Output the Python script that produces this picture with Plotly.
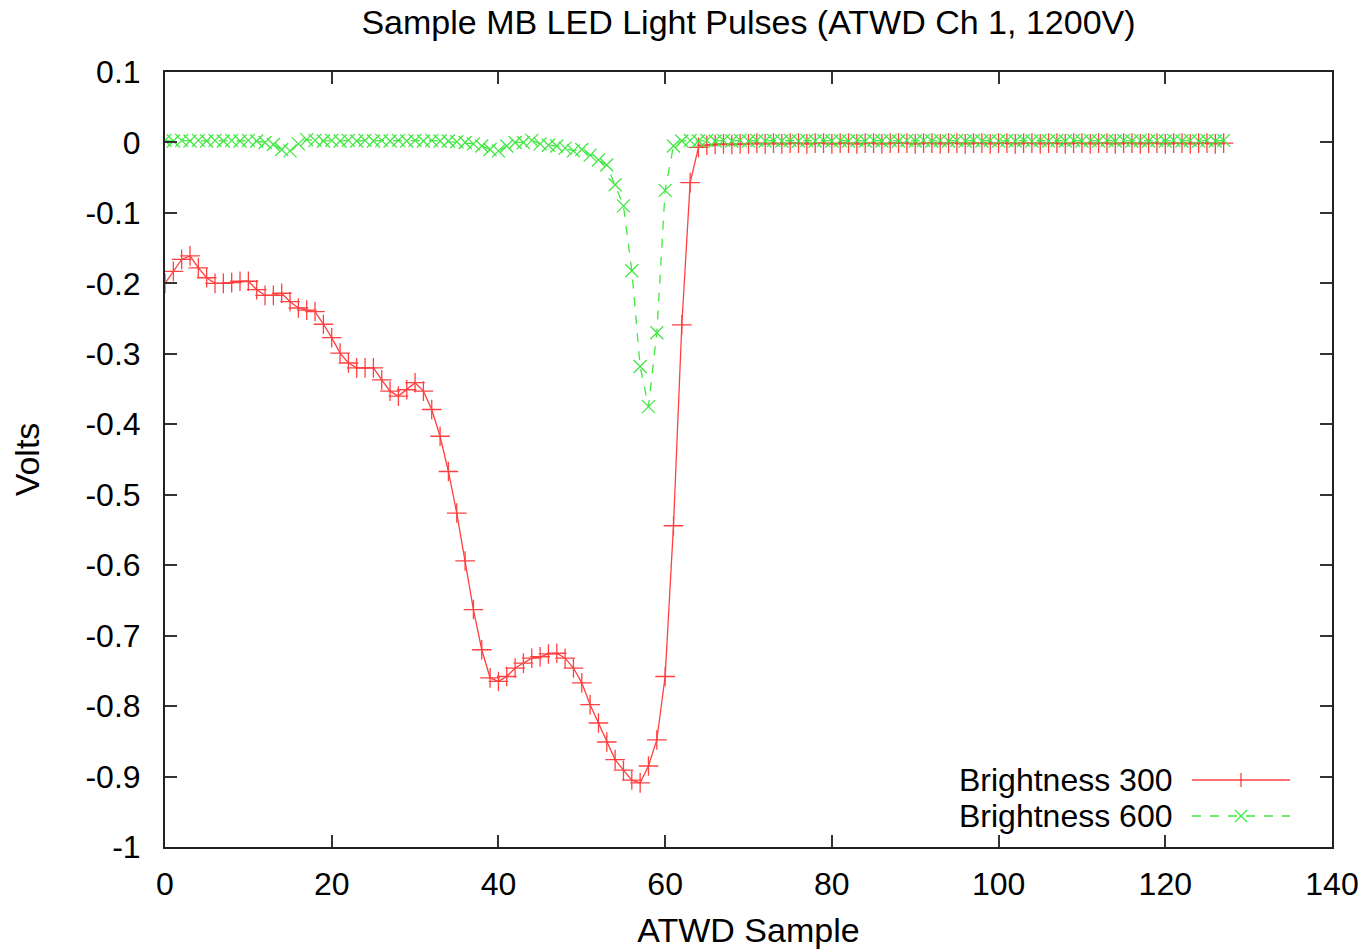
import plotly.graph_objects as go

samples = list(range(128))

brightness_300 = [
    -0.200, -0.183, -0.166, -0.161, -0.178, -0.192, -0.200, -0.200, -0.199, -0.197,
    -0.197, -0.209, -0.217, -0.217, -0.214, -0.226, -0.235, -0.238, -0.240, -0.258,
    -0.277, -0.299, -0.313, -0.320, -0.320, -0.320, -0.337, -0.353, -0.360, -0.351,
    -0.341, -0.353, -0.379, -0.417, -0.467, -0.526, -0.594, -0.663, -0.720, -0.760,
    -0.765, -0.758, -0.746, -0.739, -0.732, -0.730, -0.726, -0.725, -0.732, -0.746,
    -0.767, -0.798, -0.824, -0.851, -0.876, -0.891, -0.905, -0.909, -0.885, -0.848,
    -0.758, -0.544, -0.259, -0.057, -0.007, -0.004, -0.003, -0.002, -0.003, -0.002,
    -0.002, -0.001, -0.002, -0.001, -0.002, -0.001, -0.001, -0.002, -0.001, -0.001,
    -0.002, -0.001, -0.001, -0.002, -0.001, -0.001, -0.002, -0.001, -0.001, -0.001,
    -0.002, -0.001, -0.001, -0.002, -0.001, -0.001, -0.002, -0.001, -0.001, -0.002,
    -0.001, -0.001, -0.002, -0.001, -0.001, -0.002, -0.001, -0.001, -0.002, -0.001,
    -0.001, -0.002, -0.001, -0.001, -0.002, -0.001, -0.001, -0.002, -0.001, -0.001,
    -0.002, -0.001, -0.001, -0.002, -0.001, -0.001, -0.002, -0.001,
]

brightness_600 = [
    0.003, 0.002, 0.003, 0.002, 0.003, 0.002, 0.003, 0.002, 0.003, 0.002,
    0.003, 0.002, 0.000, -0.003, -0.010, -0.012, -0.002, 0.004, 0.003, 0.002,
    0.003, 0.002, 0.003, 0.002, 0.003, 0.002, 0.003, 0.002, 0.003, 0.002,
    0.003, 0.002, 0.003, 0.002, 0.002, 0.001, 0.000, -0.002, -0.005, -0.010,
    -0.012, -0.005, 0.000, 0.000, 0.003, -0.002, -0.004, -0.005, -0.008, -0.012,
    -0.010, -0.018, -0.025, -0.032, -0.060, -0.090, -0.182, -0.318, -0.375, -0.270,
    -0.068, -0.005, 0.002, 0.003, 0.002, 0.003, 0.002, 0.003, 0.002, 0.003,
    0.002, 0.003, 0.002, 0.003, 0.002, 0.003, 0.002, 0.003, 0.002, 0.003,
    0.002, 0.003, 0.002, 0.003, 0.002, 0.003, 0.002, 0.003, 0.002, 0.003,
    0.002, 0.003, 0.002, 0.003, 0.002, 0.003, 0.002, 0.003, 0.002, 0.003,
    0.002, 0.003, 0.002, 0.003, 0.002, 0.003, 0.002, 0.003, 0.002, 0.003,
    0.002, 0.003, 0.002, 0.003, 0.002, 0.003, 0.002, 0.003, 0.002, 0.003,
    0.002, 0.003, 0.002, 0.003, 0.002, 0.003, 0.002, 0.003,
]

series_names = ["Brightness 300", "Brightness 600"]
x_ticks = [0, 20, 40, 60, 80, 100, 120, 140]
y_ticks = [0.1, 0, -0.1, -0.2, -0.3, -0.4, -0.5, -0.6, -0.7, -0.8, -0.9, -1]
y_tick_text = ["0.1", "0", "-0.1", "-0.2", "-0.3", "-0.4", "-0.5", "-0.6", "-0.7", "-0.8", "-0.9", "-1"]

RED = "#ff4040"
GREEN = "#40e840"
FONT = "Liberation Sans"
TXT = 34
LEG = 32
TICK = 32

fig = go.Figure()
fig.add_trace(go.Scatter(
    x=samples, y=brightness_300, mode="lines+markers", name=series_names[0],
    line=dict(color=RED, width=1.3),
    marker=dict(symbol="cross-thin", size=14, line=dict(color=RED, width=1.3)),
    showlegend=False,
))
fig.add_trace(go.Scatter(
    x=samples, y=brightness_600, mode="lines+markers", name=series_names[1],
    line=dict(color=GREEN, width=1.3, dash="dash"),
    marker=dict(symbol="x-thin", size=13, line=dict(color=GREEN, width=1.3)),
    showlegend=False,
))

# gnuplot-style key (text left of sample)
L, R, T, B = 165, 1332, 72, 847
W, H = R - L, B - T
def px(x):
    return (x - L) / W
def py(y):
    return (B - y) / H

shapes = []
annotations = []
rows = [(780, RED, "solid", "cross"), (816, GREEN, "dash", "x")]
for (yy, col, dash, sym), name in zip(rows, series_names):
    annotations.append(dict(x=px(1174), y=py(yy), xref="paper", yref="paper",
                            text=name, showarrow=False, xanchor="right", yanchor="middle",
                            font=dict(family=FONT, size=LEG, color="black")))
    shapes.append(dict(type="line", xref="paper", yref="paper",
                       x0=px(1192), x1=px(1290), y0=py(yy), y1=py(yy),
                       line=dict(color=col, width=1.3, dash=dash)))
    cx = 1241
    if sym == "cross":
        shapes.append(dict(type="line", xref="paper", yref="paper",
                           x0=px(cx), x1=px(cx), y0=py(yy - 7), y1=py(yy + 7),
                           line=dict(color=col, width=1.3)))
    else:
        for d in (1, -1):
            shapes.append(dict(type="line", xref="paper", yref="paper",
                               x0=px(cx - 6), x1=px(cx + 6), y0=py(yy - 6 * d), y1=py(yy + 6 * d),
                               line=dict(color=col, width=1.3)))

fig.update_layout(
    width=1367, height=952,
    margin=dict(l=L, r=1367 - R, t=T, b=952 - B),
    paper_bgcolor="white", plot_bgcolor="white",
    font=dict(family=FONT, size=TICK, color="black"),
    title=dict(text="Sample MB LED Light Pulses (ATWD Ch 1, 1200V)",
               x=0.5, xref="paper", y=1 - 22 / 952, yref="container",
               xanchor="center", yanchor="middle",
               font=dict(family=FONT, size=TXT, color="black")),
    shapes=shapes, annotations=annotations,
)
fig.update_xaxes(
    range=[0, 140], tickvals=x_ticks, ticktext=[str(v) for v in x_ticks],
    ticks="inside", ticklen=12, tickwidth=2, tickcolor="#333",
    showline=True, linecolor="#222", linewidth=2, mirror="allticks",
    showgrid=False, zeroline=False, ticklabelstandoff=8, automargin=False,
    tickfont=dict(family=FONT, size=TICK),
    title=dict(text="ATWD Sample", standoff=17, font=dict(family=FONT, size=TXT)),
)
fig.update_yaxes(
    range=[-1, 0.1], tickvals=y_ticks, ticktext=y_tick_text,
    ticks="inside", ticklen=12, tickwidth=2, tickcolor="#333",
    showline=True, linecolor="#222", linewidth=2, mirror="allticks",
    showgrid=False, zeroline=False, ticklabelstandoff=16, automargin=False,
    tickfont=dict(family=FONT, size=TICK),
    title=dict(text="Volts", standoff=36, font=dict(family=FONT, size=TXT)),
)

fig.write_html("out.html")
